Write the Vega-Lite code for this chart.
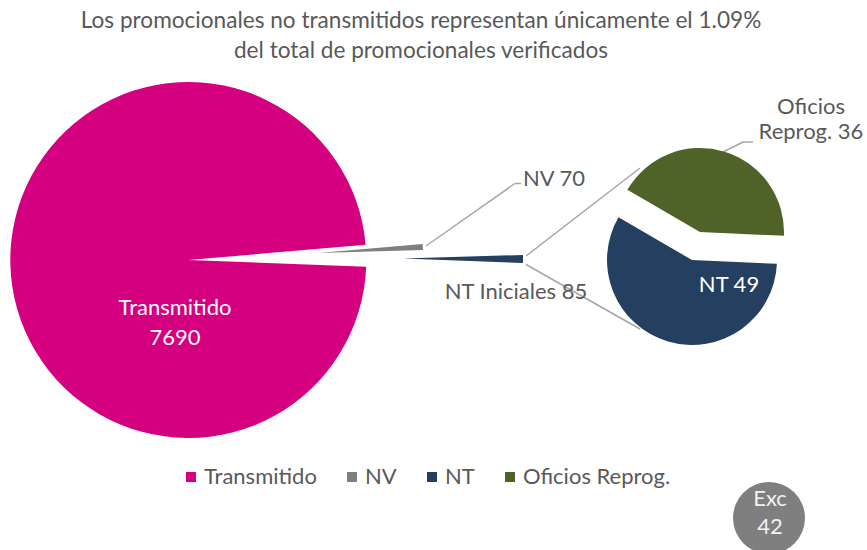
{
  "$schema": "https://vega.github.io/schema/vega-lite/v6.json",
  "width": 867,
  "height": 550,
  "autosize": {"type": "none"},
  "padding": 0,
  "background": "#ffffff",
  "config": {"view": {"stroke": null}, "font": "Lato"},
  "datasets": {
    "principal": [
      {"categoria": "Transmitido", "valor": 7690},
      {"categoria": "NV", "valor": 70},
      {"categoria": "NT Iniciales", "valor": 85}
    ],
    "secundario": [
      {"categoria": "NT", "valor": 49},
      {"categoria": "Oficios Reprog.", "valor": 36}
    ],
    "nota": [{"etiqueta": "Exc", "valor": 42}]
  },
  "resolve": {"scale": {"theta": "independent"}},
  "layer": [
    {
      "data": {"values": [{}]},
      "mark": {"type": "text", "align": "center", "baseline": "middle", "fontSize": 22.6, "lineHeight": 30, "color": "#595959",
        "text": ["Los promocionales no transmitidos representan únicamente el 1.09%", "del total de promocionales verificados"]},
      "encoding": {
        "x": {"datum": 421, "type": "quantitative", "scale": {"domain": [0, 867], "nice": false, "zero": false}, "axis": null},
        "y": {"datum": 21, "type": "quantitative", "scale": {"domain": [0, 550], "nice": false, "zero": false, "reverse": true}, "axis": null}
      }
    },
    {
      "data": {"values": [{}]},
      "mark": {"type": "rule", "color": "#A6A6A6", "strokeWidth": 1.5},
      "encoding": {"x": {"datum": 526, "type": "quantitative"}, "y": {"datum": 256, "type": "quantitative"}, "x2": {"datum": 640}, "y2": {"datum": 168}}
    },
    {
      "data": {"values": [{}]},
      "mark": {"type": "rule", "color": "#A6A6A6", "strokeWidth": 1.5},
      "encoding": {"x": {"datum": 526, "type": "quantitative"}, "y": {"datum": 264.5, "type": "quantitative"}, "x2": {"datum": 640}, "y2": {"datum": 329}}
    },
    {
      "data": {"values": [{}]},
      "mark": {"type": "rule", "color": "#A6A6A6", "strokeWidth": 1.5},
      "encoding": {"x": {"datum": 426, "type": "quantitative"}, "y": {"datum": 246, "type": "quantitative"}, "x2": {"datum": 515}, "y2": {"datum": 183.5}}
    },
    {
      "data": {"values": [{}]},
      "mark": {"type": "rule", "color": "#A6A6A6", "strokeWidth": 1.5},
      "encoding": {"x": {"datum": 515, "type": "quantitative"}, "y": {"datum": 183.5, "type": "quantitative"}, "x2": {"datum": 521}, "y2": {"datum": 183.5}}
    },
    {
      "data": {"values": [{}]},
      "mark": {"type": "rule", "color": "#A6A6A6", "strokeWidth": 1.5},
      "encoding": {"x": {"datum": 723, "type": "quantitative"}, "y": {"datum": 152, "type": "quantitative"}, "x2": {"datum": 743}, "y2": {"datum": 142}}
    },
    {
      "data": {"values": [{}]},
      "mark": {"type": "rule", "color": "#A6A6A6", "strokeWidth": 1.5},
      "encoding": {"x": {"datum": 743, "type": "quantitative"}, "y": {"datum": 142, "type": "quantitative"}, "x2": {"datum": 753}, "y2": {"datum": 142}}
    },
    {
      "data": {"name": "principal"},
      "transform": [
        {"stack": "valor", "groupby": [], "as": ["v0", "v1"]},
        {"filter": "datum.categoria == 'Transmitido'"}
      ],
      "mark": {"type": "arc", "radius": 178},
      "encoding": {
        "x": {"datum": 188.3, "type": "quantitative"},
        "y": {"datum": 260, "type": "quantitative"},
        "theta": {"field": "v0", "type": "quantitative", "scale": {"domain": [0, 7845], "range": [1.6092, 7.8924], "zero": false, "nice": false}},
        "theta2": {"field": "v1"},
        "color": {"field": "categoria", "type": "nominal",
          "scale": {"domain": ["Transmitido", "NV", "NT", "Oficios Reprog."], "range": ["#D5007F", "#7F7F7F", "#243F60", "#4F6228"]},
          "legend": {"title": null, "orient": "none", "legendX": 180, "legendY": 466, "direction": "horizontal", "symbolType": "square", "symbolSize": 100, "symbolStrokeWidth": 0, "labelFontSize": 22, "labelColor": "#595959", "columnPadding": 24, "labelOffset": 2, "padding": 0, "symbolOpacity": 1}}
      }
    },
    {
      "data": {"name": "principal"},
      "transform": [
        {"stack": "valor", "groupby": [], "as": ["v0", "v1"]},
        {"filter": "datum.categoria == 'NV'"}
      ],
      "mark": {"type": "arc", "radius": 105},
      "encoding": {
        "x": {"datum": 318, "type": "quantitative"},
        "y": {"datum": 253, "type": "quantitative"},
        "theta": {"field": "v0", "type": "quantitative", "scale": {"domain": [0, 7845], "range": [1.6092, 7.8924], "zero": false, "nice": false}},
        "theta2": {"field": "v1"},
        "color": {"field": "categoria", "type": "nominal"}
      }
    },
    {
      "data": {"name": "principal"},
      "transform": [
        {"stack": "valor", "groupby": [], "as": ["v0", "v1"]},
        {"filter": "datum.categoria == 'NT Iniciales'"}
      ],
      "mark": {"type": "arc", "radius": 120, "color": "#243F60"},
      "encoding": {
        "x": {"datum": 403, "type": "quantitative"},
        "y": {"datum": 258.5, "type": "quantitative"},
        "theta": {"field": "v0", "type": "quantitative", "scale": {"domain": [0, 7845], "range": [1.6092, 7.8924], "zero": false, "nice": false}},
        "theta2": {"field": "v1"}
      }
    },
    {
      "data": {"name": "secundario"},
      "transform": [
        {"stack": "valor", "groupby": [], "as": ["v0", "v1"]},
        {"filter": "datum.categoria == 'NT'"}
      ],
      "mark": {"type": "arc", "radius": 85},
      "encoding": {
        "x": {"datum": 692, "type": "quantitative"},
        "y": {"datum": 260, "type": "quantitative"},
        "theta": {"field": "v0", "type": "quantitative", "scale": {"domain": [0, 85], "range": [1.6162, 7.8994], "zero": false, "nice": false}},
        "theta2": {"field": "v1"},
        "color": {"field": "categoria", "type": "nominal"}
      }
    },
    {
      "data": {"name": "secundario"},
      "transform": [
        {"stack": "valor", "groupby": [], "as": ["v0", "v1"]},
        {"filter": "datum.categoria == 'Oficios Reprog.'"}
      ],
      "mark": {"type": "arc", "radius": 84},
      "encoding": {
        "x": {"datum": 700, "type": "quantitative"},
        "y": {"datum": 232, "type": "quantitative"},
        "theta": {"field": "v0", "type": "quantitative", "scale": {"domain": [0, 85], "range": [1.6162, 7.8994], "zero": false, "nice": false}},
        "theta2": {"field": "v1"},
        "color": {"field": "categoria", "type": "nominal"}
      }
    },
    {
      "data": {"name": "principal"},
      "transform": [
        {"filter": "datum.categoria == 'Transmitido'"},
        {"calculate": "datum.categoria + '\\n' + datum.valor", "as": "etiqueta"}
      ],
      "mark": {"type": "text", "align": "center", "baseline": "middle", "fontSize": 22, "lineHeight": 30, "lineBreak": "\n", "color": "#FFFFFF"},
      "encoding": {
        "x": {"datum": 175, "type": "quantitative"},
        "y": {"datum": 308, "type": "quantitative"},
        "text": {"field": "etiqueta", "type": "nominal"}
      }
    },
    {
      "data": {"name": "principal"},
      "transform": [
        {"filter": "datum.categoria == 'NV'"},
        {"calculate": "datum.categoria + ' ' + datum.valor", "as": "etiqueta"}
      ],
      "mark": {"type": "text", "align": "left", "baseline": "middle", "fontSize": 22, "color": "#595959"},
      "encoding": {
        "x": {"datum": 523, "type": "quantitative"},
        "y": {"datum": 179, "type": "quantitative"},
        "text": {"field": "etiqueta", "type": "nominal"}
      }
    },
    {
      "data": {"name": "principal"},
      "transform": [
        {"filter": "datum.categoria == 'NT Iniciales'"},
        {"calculate": "datum.categoria + ' ' + datum.valor", "as": "etiqueta"}
      ],
      "mark": {"type": "text", "align": "center", "baseline": "middle", "fontSize": 22, "color": "#595959"},
      "encoding": {
        "x": {"datum": 516, "type": "quantitative"},
        "y": {"datum": 292, "type": "quantitative"},
        "text": {"field": "etiqueta", "type": "nominal"}
      }
    },
    {
      "data": {"name": "secundario"},
      "transform": [
        {"filter": "datum.categoria == 'NT'"},
        {"calculate": "datum.categoria + ' ' + datum.valor", "as": "etiqueta"}
      ],
      "mark": {"type": "text", "align": "center", "baseline": "middle", "fontSize": 22, "color": "#FFFFFF"},
      "encoding": {
        "x": {"datum": 729, "type": "quantitative"},
        "y": {"datum": 285, "type": "quantitative"},
        "text": {"field": "etiqueta", "type": "nominal"}
      }
    },
    {
      "data": {"name": "secundario"},
      "transform": [
        {"filter": "datum.categoria == 'Oficios Reprog.'"},
        {"calculate": "replace(datum.categoria, ' ', '\\n') + ' ' + datum.valor", "as": "etiqueta"}
      ],
      "mark": {"type": "text", "align": "center", "baseline": "middle", "fontSize": 22, "lineHeight": 25, "lineBreak": "\n", "color": "#595959"},
      "encoding": {
        "x": {"datum": 811, "type": "quantitative"},
        "y": {"datum": 107, "type": "quantitative"},
        "text": {"field": "etiqueta", "type": "nominal"}
      }
    },
    {
      "data": {"name": "nota"},
      "mark": {"type": "point", "shape": "circle", "filled": true, "size": 5184, "color": "#7F7F7F", "opacity": 1},
      "encoding": {
        "x": {"datum": 769, "type": "quantitative"},
        "y": {"datum": 518, "type": "quantitative"}
      }
    },
    {
      "data": {"name": "nota"},
      "transform": [
        {"calculate": "datum.etiqueta + '\\n' + datum.valor", "as": "texto"}
      ],
      "mark": {"type": "text", "align": "center", "baseline": "middle", "fontSize": 22, "lineHeight": 28, "lineBreak": "\n", "color": "#F2F2F2"},
      "encoding": {
        "x": {"datum": 770, "type": "quantitative"},
        "y": {"datum": 499, "type": "quantitative"},
        "text": {"field": "texto", "type": "nominal"}
      }
    }
  ]
}
